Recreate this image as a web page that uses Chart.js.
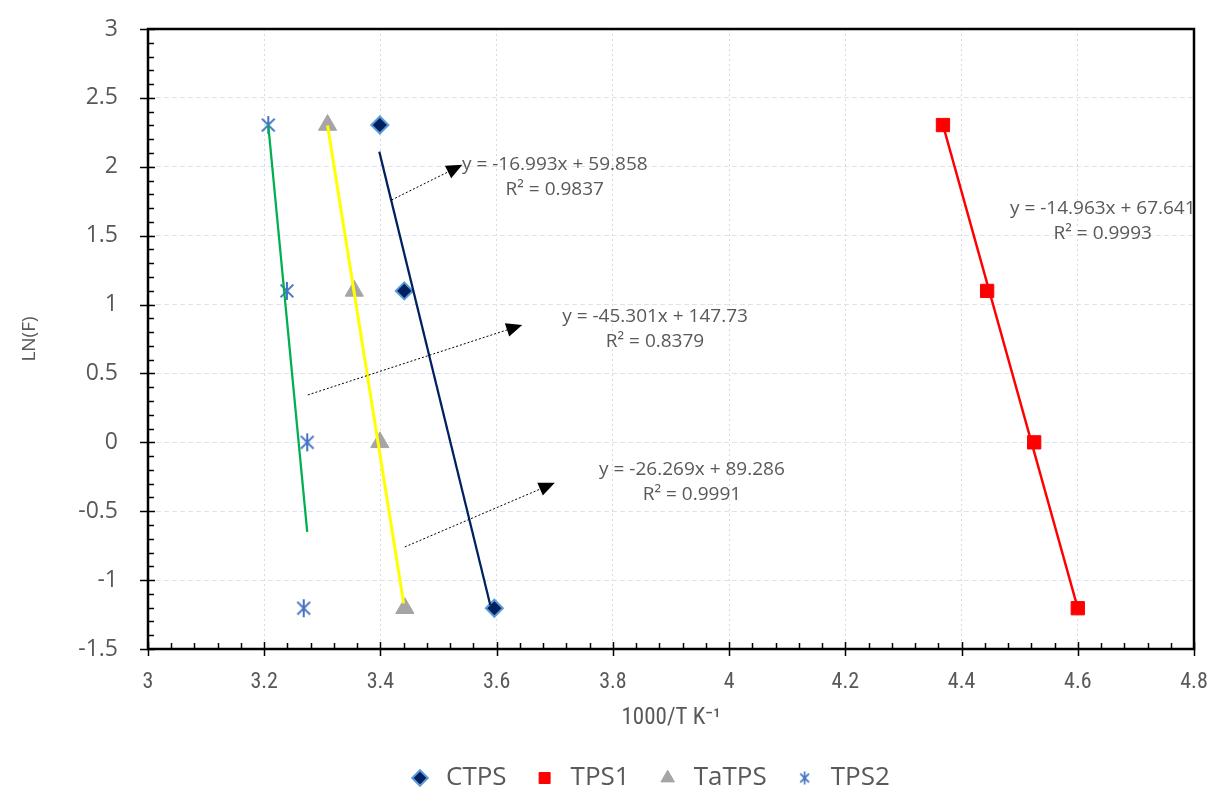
<!DOCTYPE html>
<html>
<head>
<meta charset="utf-8">
<title>LN(F) vs 1000/T</title>
<script src="https://cdn.jsdelivr.net/npm/chart.js@4.4.0/dist/chart.umd.min.js"></script>
<style>
    html, body { margin: 0; padding: 0; background: #fff; }
    #wrap { width: 1212px; height: 790px; }
</style>
</head>
<body>
<div id="wrap"><canvas id="arrhenius-chart" width="1212" height="790"></canvas></div>
<script>
// --- datos ---
const lnF = [2.303, 1.099, 0, -1.204];

const ctpsX = [3.399, 3.441, 3.596];
const ctpsY = [2.303, 1.099, -1.204];
const tps1X = [4.368, 4.444, 4.525, 4.600];
const tataX = [3.309, 3.355, 3.399, 3.442];
const tps2X = [3.207, 3.239, 3.274, 3.268];

// lineas de tendencia (extremos)
const ctpsTrendX = [3.398, 3.589];
const ctpsTrendY = [2.11, -1.18];
const tps1TrendX = [4.368, 4.600];
const tps1TrendY = [2.303, -1.204];
const tataTrendX = [3.309, 3.440];
const tataTrendY = [2.30, -1.17];
const tps2TrendX = [3.207, 3.274];
const tps2TrendY = [2.30, -0.65];

const xTicks = [3, 3.2, 3.4, 3.6, 3.8, 4, 4.2, 4.4, 4.6, 4.8];
const yTicks = [-1.5, -1, -0.5, 0, 0.5, 1, 1.5, 2, 2.5, 3];

// ecuaciones
const eqLines = ['y = -16.993x + 59.858', 'y = -45.301x + 147.73', 'y = -26.269x + 89.286', 'y = -14.963x + 67.641'];
const r2Lines = ['R² = 0.9837', 'R² = 0.8379', 'R² = 0.9991', 'R² = 0.9993'];
const eqAt = [[3.700, 2.013], [3.8725, 0.91], [3.936, -0.20], [4.643, 1.70]];
const arrows = [
    [3.419, 1.759, 3.541, 2.014],
    [3.275, 0.344, 3.644, 0.852],
    [3.442, -0.759, 3.700, -0.294]
];

const textColor = '#595959';
const narrowFont = '"Liberation Sans Narrow", "Roboto Condensed", "Open Sans", sans-serif';
const pts = (xs, ys) => xs.map((x, i) => ({ x: x, y: ys[i] }));

function makeStar(size, lw) {
    const c = document.createElement('canvas');
    c.width = size; c.height = size;
    const g = c.getContext('2d');
    g.strokeStyle = '#4472C4';
    g.lineWidth = lw;
    const m = size / 2, d = size / 2 - 2;
    g.beginPath();
    g.moveTo(m - d * 0.8, m - d * 0.8); g.lineTo(m + d * 0.8, m + d * 0.8);
    g.moveTo(m + d * 0.8, m - d * 0.8); g.lineTo(m - d * 0.8, m + d * 0.8);
    g.moveTo(m, 1); g.lineTo(m, size - 1);
    g.stroke();
    return c;
}
const starBig = makeStar(20, 2);
const starSmall = makeStar(15, 1.7);

// marco, ticks mayores y menores
const frameTicks = {
    id: 'frameTicks',
    beforeDatasetsDraw(chart) {
        const { ctx, chartArea: a, scales: { x, y } } = chart;
        ctx.save();
        ctx.strokeStyle = '#000';
        ctx.lineWidth = 1.5;
        ctx.beginPath();
        for (let i = 1; i < 45; i++) {
            if (i % 5 === 0) continue;
            const py = Math.round(y.getPixelForValue(-1.5 + i * 0.1)) + 0.5;
            ctx.moveTo(a.left, py); ctx.lineTo(a.left + 6, py);
        }
        yTicks.forEach(v => {
            const py = Math.round(y.getPixelForValue(v)) + 0.5;
            ctx.moveTo(a.left - 8, py); ctx.lineTo(a.left + 7, py);
        });
        for (let i = 1; i < 45; i++) {
            if (i % 5 === 0) continue;
            const px = Math.round(x.getPixelForValue(3 + i * 0.04)) + 0.5;
            ctx.moveTo(px, a.bottom); ctx.lineTo(px, a.bottom - 6);
        }
        xTicks.forEach(v => {
            const px = Math.round(x.getPixelForValue(v)) + 0.5;
            ctx.moveTo(px, a.bottom + 7); ctx.lineTo(px, a.bottom - 7);
        });
        ctx.stroke();
        ctx.lineWidth = 2.5;
        ctx.strokeRect(a.left, a.top, a.right - a.left, a.bottom - a.top);
        ctx.restore();
    }
};

// flechas y etiquetas de las ecuaciones
const trendLabels = {
    id: 'trendLabels',
    afterDatasetsDraw(chart) {
        const { ctx, scales: { x, y } } = chart;
        ctx.save();
        arrows.forEach(a => {
            const x0 = x.getPixelForValue(a[0]), y0 = y.getPixelForValue(a[1]);
            const x1 = x.getPixelForValue(a[2]), y1 = y.getPixelForValue(a[3]);
            const ang = Math.atan2(y1 - y0, x1 - x0);
            const len = 16;
            ctx.strokeStyle = '#000';
            ctx.lineWidth = 1;
            ctx.setLineDash([2, 2]);
            ctx.beginPath();
            ctx.moveTo(x0, y0);
            ctx.lineTo(x1 - len * Math.cos(ang), y1 - len * Math.sin(ang));
            ctx.stroke();
            ctx.setLineDash([]);
            ctx.fillStyle = '#000';
            ctx.beginPath();
            ctx.moveTo(x1, y1);
            ctx.lineTo(x1 - len * Math.cos(ang) + 7 * Math.sin(ang), y1 - len * Math.sin(ang) - 7 * Math.cos(ang));
            ctx.lineTo(x1 - len * Math.cos(ang) - 7 * Math.sin(ang), y1 - len * Math.sin(ang) + 7 * Math.cos(ang));
            ctx.closePath();
            ctx.fill();
        });
        ctx.fillStyle = textColor;
        ctx.font = '19px "Open Sans", sans-serif';
        ctx.textAlign = 'center';
        ctx.textBaseline = 'middle';
        eqAt.forEach((p, i) => {
            const px = x.getPixelForValue(p[0]), py = y.getPixelForValue(p[1]);
            ctx.fillText(eqLines[i], px, py);
            ctx.fillText(r2Lines[i], px, py + 25);
        });
        ctx.restore();
    }
};

// mover la leyenda a su sitio
const legendPlace = {
    id: 'legendPlace',
    afterLayout(chart) {
        const lg = chart.legend;
        if (!lg || !lg.lineWidths) return;
        const pad = lg.options.labels.padding;
        const fs = lg.options.labels.font.size;
        const startX = (lg.left + pad + lg.right - lg.lineWidths[0]) / 2;
        const dx = 407 - startX;
        const dy = 778 - (lg.top + pad + fs / 2);
        lg.left += dx; lg.right += dx;
        lg.top += dy; lg.bottom += dy;
    }
};

const trendBase = { type: 'scatter', showLine: true, pointRadius: 0, pointHoverRadius: 0, isTrend: true };

const ctx = document.getElementById('arrhenius-chart').getContext('2d');
const arrChart = new Chart(ctx, {
    type: 'scatter',
    data: {
        datasets: [
            { ...trendBase, label: 'trend CTPS', data: pts(ctpsTrendX, ctpsTrendY), borderColor: '#002060', borderWidth: 2.25 },
            { ...trendBase, label: 'trend TPS1', data: pts(tps1TrendX, tps1TrendY), borderColor: '#FF0000', borderWidth: 2.5 },
            { ...trendBase, label: 'trend TaTPS', data: pts(tataTrendX, tataTrendY), borderColor: '#FFFF00', borderWidth: 3 },
            { ...trendBase, label: 'trend TPS2', data: pts(tps2TrendX, tps2TrendY), borderColor: '#00B050', borderWidth: 2.25 },
            {
                label: 'CTPS',
                data: pts(ctpsX, ctpsY),
                pointStyle: 'rectRot',
                pointRadius: 8.5,
                backgroundColor: '#002060',
                borderColor: '#5B9BD5',
                borderWidth: 2
            },
            {
                label: 'TPS1',
                data: pts(tps1X, lnF),
                pointStyle: 'rect',
                pointRadius: 9.4,
                backgroundColor: '#FF0000',
                borderColor: '#FF0000',
                borderWidth: 1
            },
            {
                label: 'TaTPS',
                data: pts(tataX, lnF),
                pointStyle: 'triangle',
                pointRadius: 10.5,
                backgroundColor: '#A5A5A5',
                borderColor: '#A5A5A5',
                borderWidth: 1
            },
            {
                label: 'TPS2',
                data: pts(tps2X, lnF),
                pointStyle: starBig,
                pointRadius: 9,
                backgroundColor: '#4472C4',
                borderColor: '#4472C4',
                borderWidth: 2
            }
        ]
    },
    options: {
        responsive: false,
        animation: false,
        layout: { padding: { left: 0, right: 18, top: 29, bottom: 0 } },
        scales: {
            x: {
                type: 'linear',
                min: 3,
                max: 4.8,
                afterBuildTicks: s => { s.ticks = xTicks.map(v => ({ value: v })); },
                afterFit: s => {
                    s.height = 790 - 649 - s.chart.legend.height;
                    s.paddingLeft = 0;
                    s.paddingRight = 0;
                },
                ticks: {
                    padding: 20,
                    color: textColor,
                    font: { family: narrowFont, size: 22 },
                    callback: v => String(Number(v.toFixed(2)))
                },
                grid: { color: '#D9D9D9', lineWidth: 1, drawTicks: false },
                border: { display: false, dash: [2, 3] },
                title: {
                    display: true,
                    text: '1000/T K⁻¹',
                    color: textColor,
                    font: { family: narrowFont, size: 23 },
                    padding: { top: 0, bottom: -3 }
                }
            },
            y: {
                type: 'linear',
                min: -1.5,
                max: 3,
                afterBuildTicks: s => { s.ticks = yTicks.map(v => ({ value: v })); },
                afterFit: s => {
                    s.width = 148;
                    s.paddingTop = 0;
                    s.paddingBottom = 0;
                },
                ticks: {
                    padding: 30,
                    color: textColor,
                    font: { family: '"Open Sans", sans-serif', size: 23 },
                    callback: v => String(Number(v.toFixed(2)))
                },
                grid: { color: '#DAE3F3', lineWidth: 1, drawTicks: false },
                border: { display: false, dash: [5, 3] },
                title: {
                    display: true,
                    text: 'LN(F)',
                    color: textColor,
                    font: { family: '"Open Sans", sans-serif', size: 19 },
                    padding: { top: 18, bottom: 0 }
                }
            }
        },
        plugins: {
            tooltip: { enabled: false },
            legend: {
                position: 'bottom',
                labels: {
                    usePointStyle: true,
                    boxHeight: 11,
                    padding: 25,
                    color: textColor,
                    font: { family: '"Open Sans", sans-serif', size: 26 },
                    filter: (item, data) => !data.datasets[item.datasetIndex].isTrend,
                    generateLabels(chart) {
                        const items = Chart.defaults.plugins.legend.labels.generateLabels(chart);
                        items.forEach(it => { if (it.text === 'TPS2') it.pointStyle = starSmall; });
                        return items;
                    }
                }
            }
        }
    },
    plugins: [frameTicks, trendLabels, legendPlace]
});
</script>
</body>
</html>
